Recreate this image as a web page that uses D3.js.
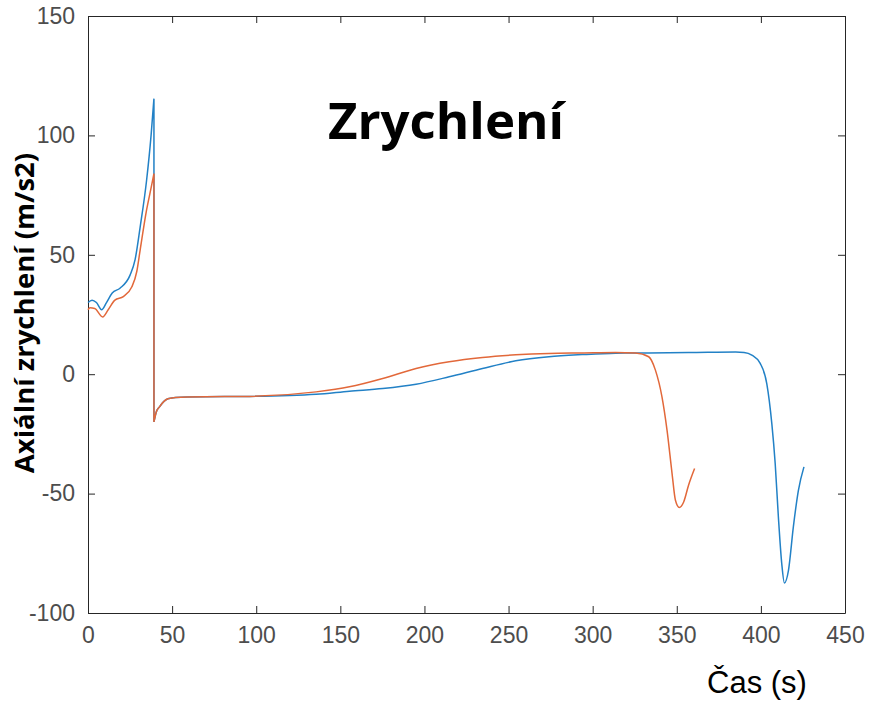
<!DOCTYPE html>
<meta charset="utf-8">
<style>
    body { margin: 0; background: #ffffff; }
    text { font-family: "Liberation Sans", Arial, sans-serif; }
</style>
<body>
<script src="https://cdn.jsdelivr.net/npm/d3@7"></script>
<script>

    // values (time in s, acceleration in m/s2)
    const blueTime = [0, 2.4, 5, 8.1, 11, 14.4, 19, 25, 28, 31, 34.8, 37.5, 39.2, 39.2, 40.5, 42.5, 45, 47.5, 52, 59,
        96, 135.6, 155.4, 175.2, 195, 214.7, 234.5, 254.3, 274, 293.8, 313.6, 333.3, 360, 385, 390, 394.6, 399.6,
        403.5, 406.5, 408.5, 410.4, 412.4, 414, 416.4, 419.3, 422.3, 425.6];
    const blueAcc = [30, 31, 30, 27, 30, 34, 36, 41.5, 48, 61.6, 81, 100, 115.4, -20, -16, -13.7, -11.5, -10.3, -9.8, -9.5,
        -9.3, -8.4, -7.1, -6.0, -4.2, -1.1, 2.4, 5.6, 7.3, 8.2, 8.8, 8.9, 9.1, 9.3, 9.1, 8.0, 4.5,
        -3.9, -20.7, -37.4, -59.8, -79.3, -87.4, -82.1, -63.9, -48.6, -38.8];

    const orangeTime = [0, 1.2, 4, 8.7, 12, 16, 21, 26, 29, 31, 34.8, 37.5, 39.2, 39.2, 40.5, 42.5, 45, 47.5, 52, 59,
        96, 135.6, 155.4, 175.2, 195, 214.7, 234.5, 254.3, 274, 293.8, 313.6, 325.4, 333.3, 337.3, 341.2,
        344.2, 347.2, 349.2, 351.5, 354.1, 357, 360.6];
    const orangeAcc = [27, 27.8, 27.5, 24, 27, 31, 32.5, 36.5, 43, 52, 68.7, 78, 84, -20, -16, -13.7, -11.5, -10.3, -9.8, -9.5,
        -9.3, -7.4, -5.3, -1.8, 2.4, 5.2, 7.0, 8.1, 8.7, 8.9, 9.1, 8.9, 7.3, 1.7, -9.5,
        -23.4, -41.6, -52.8, -55.8, -53.5, -46.5, -39.5];

    const xTicks = [0, 50, 100, 150, 200, 250, 300, 350, 400, 450];
    const yTicks = [-100, -50, 0, 50, 100, 150];

    const width = 869, height = 706;
    const margin = {top: 16, right: 24, bottom: 93, left: 88};

    const svg = d3.select("body").append("svg")
        .attr("width", width)
        .attr("height", height);

    const x = d3.scaleLinear().domain([0, 450]).range([margin.left, width - margin.right]);
    const y = d3.scaleLinear().domain([-100, 150]).range([height - margin.bottom, margin.top]);

    const tickLen = 7;
    const plain = function (d) { return String(d); };   // hyphen minus, like the original

    function styleAxis(g) {
        g.select(".domain").attr("stroke", "#262626");
        g.selectAll(".tick line").attr("stroke", "#262626");
        g.selectAll(".tick text").attr("fill", "#4d4d4d").style("font-size", "23px");
    }

    // box with inward ticks on all four sides
    svg.append("g")
        .attr("transform", "translate(0," + y(-100) + ")")
        .call(d3.axisBottom(x).tickValues(xTicks).tickFormat(plain).tickSizeInner(-tickLen).tickSizeOuter(0).tickPadding(14))
        .call(styleAxis);

    svg.append("g")
        .attr("transform", "translate(0," + y(150) + ")")
        .call(d3.axisTop(x).tickValues(xTicks).tickSizeInner(-tickLen).tickSizeOuter(0).tickFormat(""))
        .call(styleAxis);

    svg.append("g")
        .attr("transform", "translate(" + x(0) + ",0)")
        .call(d3.axisLeft(y).tickValues(yTicks).tickFormat(plain).tickSizeInner(-tickLen).tickSizeOuter(0).tickPadding(13))
        .call(styleAxis);

    svg.append("g")
        .attr("transform", "translate(" + x(450) + ",0)")
        .call(d3.axisRight(y).tickValues(yTicks).tickSizeInner(-tickLen).tickSizeOuter(0).tickFormat(""))
        .call(styleAxis);

    const line = d3.line()
        .x(function (d) { return x(d[0]); })
        .y(function (d) { return y(d[1]); })
        .curve(d3.curveMonotoneX);

    // smooth each side of the stage separation, join them with a straight drop
    function pathFor(t, v) {
        const pts = d3.zip(t, v);
        let cut = 1;
        while (cut < pts.length && pts[cut][0] !== pts[cut - 1][0]) cut++;
        const a = line(pts.slice(0, cut));
        const b = line(pts.slice(cut));
        return a + "L" + b.slice(1);
    }

    // blue first, orange drawn on top
    const series = [
        {t: blueTime, v: blueAcc, color: "#2281c6"},
        {t: orangeTime, v: orangeAcc, color: "#e2683a"}
    ];

    series.forEach(function (s) {
        svg.append("path")
            .attr("fill", "none")
            .attr("stroke", s.color)
            .attr("stroke-width", 1.5)
            .attr("d", pathFor(s.t, s.v));
    });

    svg.append("text")
        .attr("x", 446)
        .attr("y", 139)
        .attr("text-anchor", "middle")
        .style("font-family", "'Open Sans', sans-serif")
        .style("font-weight", "bold")
        .style("font-size", "51px")
        .text("Zrychlení");

    svg.append("text")
        .attr("transform", "translate(23,313) rotate(-90)")
        .attr("text-anchor", "middle")
        .attr("dominant-baseline", "central")
        .style("font-family", "'Open Sans', sans-serif")
        .style("font-weight", "bold")
        .style("font-size", "27.5px")
        .text("Axiální zrychlení (m/s2)");

    svg.append("text")
        .attr("x", 757)
        .attr("y", 693)
        .attr("text-anchor", "middle")
        .style("font-size", "31px")
        .text("Čas (s)");

</script>
</body>
